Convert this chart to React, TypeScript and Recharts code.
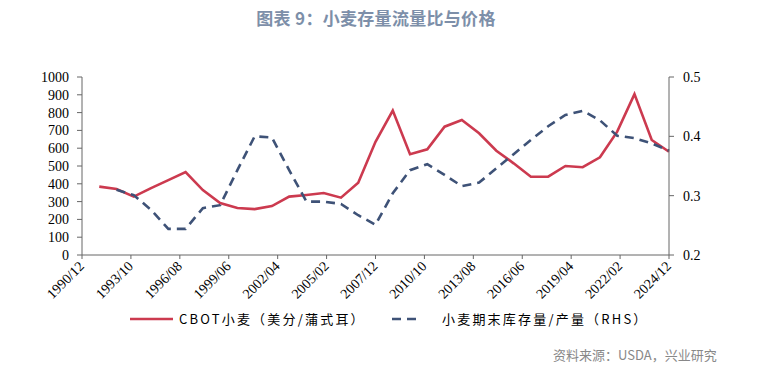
import { LineChart, Line, XAxis, YAxis } from 'recharts';

// yearly points, 1991..2024 (month offsets from 1990/12)
const years = [
  1991, 1992, 1993, 1994, 1995, 1996, 1997, 1998, 1999, 2000, 2001, 2002,
  2003, 2004, 2005, 2006, 2007, 2008, 2009, 2010, 2011, 2012, 2013, 2014,
  2015, 2016, 2017, 2018, 2019, 2020, 2021, 2022, 2023, 2024,
];

const cbotPrice = [
  384, 371, 328, 376, 421, 466, 365, 292, 264, 258, 275, 328,
  337, 348, 322, 406, 636, 811, 566, 594, 721, 758, 684, 586,
  515, 440, 440, 500, 493, 549, 693, 904, 646, 580,
];

const stockRatio = [
  null, 0.31, 0.301, 0.276, 0.244, 0.244, 0.279, 0.284, 0.343, 0.4, 0.398, 0.343,
  0.29, 0.29, 0.286, 0.267, 0.251, 0.304, 0.343, 0.353, 0.335, 0.316, 0.322, 0.346,
  0.37, 0.394, 0.417, 0.436, 0.443, 0.427, 0.401, 0.397, 0.388, 0.376,
];

const xTicks = [0, 34, 68, 102, 136, 170, 204, 238, 272, 306, 340, 374, 408];
const leftTicks = [0, 100, 200, 300, 400, 500, 600, 700, 800, 900, 1000];
const rightTicks = [0.2, 0.3, 0.4, 0.5];

const data = years.map((y, i) => ({
  m: (y - 1990) * 12,
  price: cbotPrice[i],
  ratio: stockRatio[i],
}));

function monthLabel(m: number): string {
  const total = 1990 * 12 + 11 + m;
  const yr = Math.floor(total / 12);
  const mo = (total % 12) + 1;
  return `${yr}/${mo < 10 ? '0' + mo : mo}`;
}

const RED = '#cc3a4f';
const BLUE = '#3e5277';
const AXIS = '#666666';
const serif = '"Liberation Serif", "DejaVu Serif", serif';
const cjk = '"Noto Sans CJK SC", sans-serif';

function XTick(props: any) {
  const { x, y, payload } = props;
  return (
    <g transform={`translate(${x + 3},${y + 6})`}>
      <text textAnchor="end" transform="rotate(-45)" fontFamily={serif} fontSize={14} fill="#000">
        {monthLabel(payload.value)}
      </text>
    </g>
  );
}

export default function App() {
  return (
    <div style={{ position: 'absolute', left: 0, top: 0, width: 767, height: 368, background: '#fff' }}>
      <div
        style={{
          position: 'absolute', left: 0, top: 5, width: 752, textAlign: 'center',
          fontFamily: cjk, fontWeight: 700, fontSize: 17, letterSpacing: 0.3, color: '#7d8fa9',
        }}
      >
        图表 9：小麦存量流量比与价格
      </div>
      <LineChart width={767} height={368} data={data} margin={{ top: 77, right: 0, bottom: 0, left: 0 }}>
        <XAxis
          dataKey="m"
          type="number"
          domain={[0, 408]}
          ticks={xTicks}
          interval={0}
          height={113}
          tickSize={4}
          stroke={AXIS}
          tick={<XTick />}
        />
        <YAxis
          yAxisId="left"
          domain={[0, 1000]}
          ticks={leftTicks}
          interval={0}
          width={82}
          tickSize={5}
          tickMargin={8}
          stroke={AXIS}
          tick={{ fill: '#000', fontFamily: serif, fontSize: 14 }}
        />
        <YAxis
          yAxisId="right"
          orientation="right"
          domain={[0.2, 0.5]}
          ticks={rightTicks}
          interval={0}
          width={98}
          tickSize={5}
          tickMargin={9}
          stroke={AXIS}
          tickFormatter={(v: number) => v.toFixed(1)}
          tick={{ fill: '#000', fontFamily: serif, fontSize: 14 }}
        />
        <Line
          yAxisId="left"
          type="linear"
          dataKey="price"
          stroke={RED}
          strokeWidth={2.6}
          dot={false}
          isAnimationActive={false}
        />
        <Line
          yAxisId="right"
          type="linear"
          dataKey="ratio"
          stroke={BLUE}
          strokeWidth={2.6}
          strokeDasharray="9 6"
          dot={false}
          connectNulls
          isAnimationActive={false}
        />
      </LineChart>
      <svg style={{ position: 'absolute', left: 0, top: 0 }} width={767} height={368} pointerEvents="none">
        <line x1={130} x2={173} y1={319} y2={319} stroke={RED} strokeWidth={2.6} />
        <line x1={392} x2={421} y1={319} y2={319} stroke={BLUE} strokeWidth={2.6} strokeDasharray="9 6" />
      </svg>
      <div
        style={{
          position: 'absolute', left: 179, top: 310, fontFamily: cjk, fontSize: 13,
          letterSpacing: 2.2, color: '#000', whiteSpace: 'nowrap', lineHeight: '18px',
        }}
      >
        CBOT小麦（美分/蒲式耳）
      </div>
      <div
        style={{
          position: 'absolute', left: 442, top: 310, fontFamily: cjk, fontSize: 13,
          letterSpacing: 2.2, color: '#000', whiteSpace: 'nowrap', lineHeight: '18px',
        }}
      >
        小麦期末库存量/产量（RHS）
      </div>
      <div
        style={{
          position: 'absolute', left: 553, top: 346, fontFamily: cjk, fontSize: 13,
          color: '#888', whiteSpace: 'nowrap', lineHeight: '18px',
        }}
      >
        资料来源：USDA，兴业研究
      </div>
    </div>
  );
}
